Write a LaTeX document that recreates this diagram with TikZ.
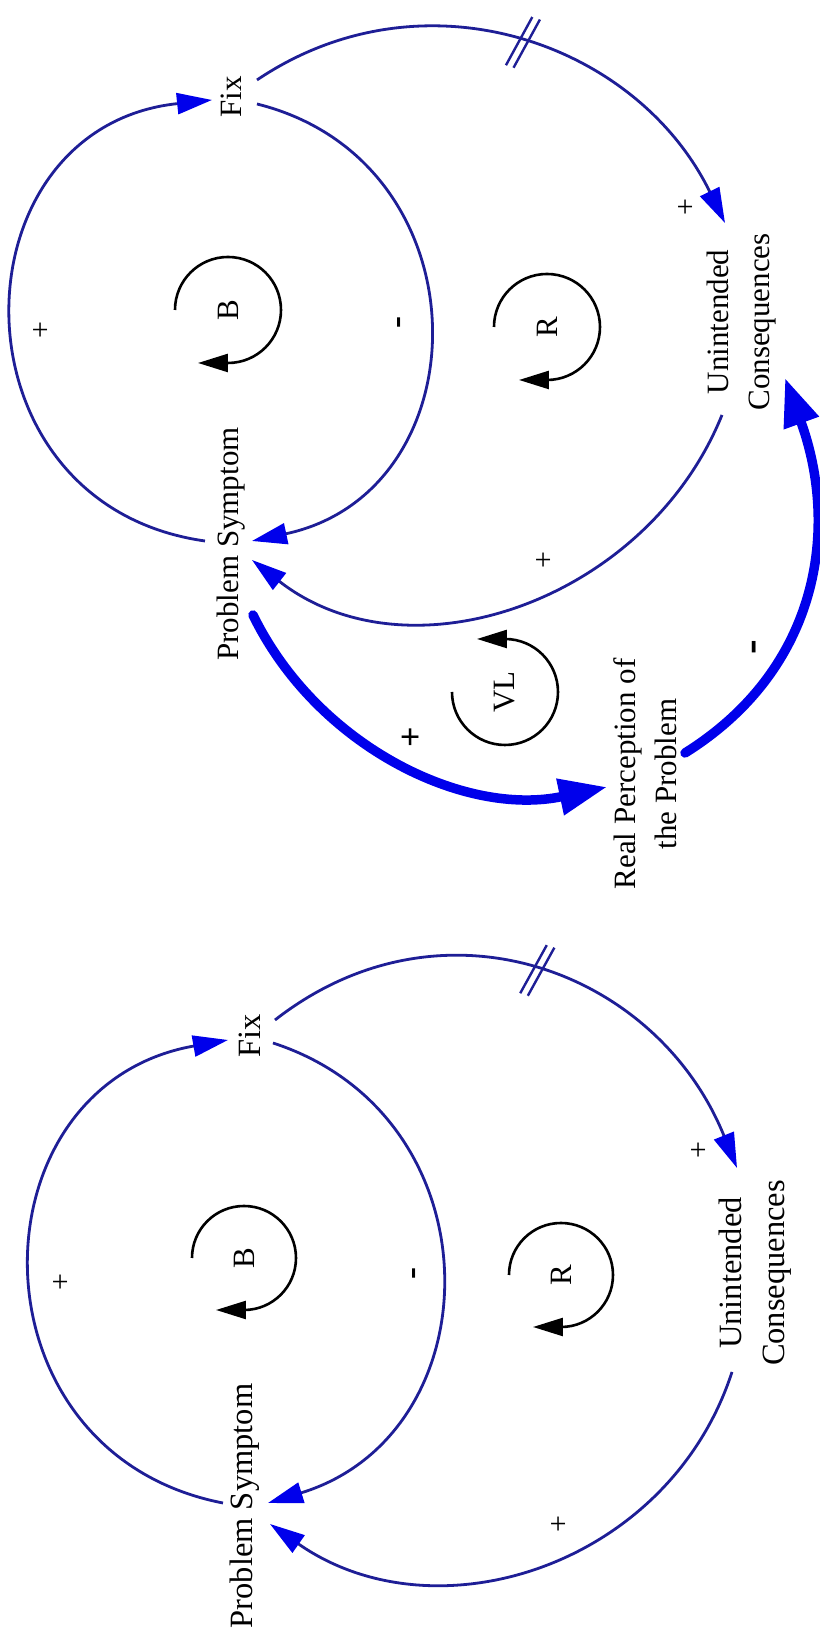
\documentclass[tikz,border=0pt]{standalone}
\usepackage{fontspec}
\setmainfont{Liberation Serif}
\usetikzlibrary{arrows.meta,calc,decorations.markings}
\definecolor{linknavy}{RGB}{30,30,150}
\definecolor{headblue}{RGB}{0,0,235}
\tikzset{
  vname/.style={align=center, inner sep=0pt, font=\fontsize{31}{41}\selectfont},
  sign/.style={inner sep=0pt, font=\fontsize{30}{34}\selectfont},
  msign/.style={inner sep=0pt, font=\fontsize{36}{40}\selectfont\bfseries},
  bsign/.style={inner sep=0pt, font=\fontsize{36}{40}\selectfont\bfseries},
  looplbl/.style={inner sep=0pt, font=\fontsize{31}{36}\selectfont},
  link/.style={linknavy, line width=2.8pt,
               -{Triangle[length=35pt, width=21pt, color=headblue]}},
  thicklink/.style={headblue, line width=9.5pt, line cap=round,
                    -{Triangle[length=48pt, width=35pt]}},
  loopsym/.style={line width=2.6pt, -{Triangle[length=30pt, width=18pt]}},
  delay/.style={postaction={decorate, decoration={markings,
      mark=at position #1 with {
        \draw[linknavy, line width=2.4pt, -] (-9,-27) -- (1,27);
        \draw[linknavy, line width=2.4pt, -] (-1,-27) -- (9,27);}}}}
}
\begin{document}
\begin{tikzpicture}[x=1pt, y=1pt, rotate=90, transform shape]
  \useasboundingbox (0,0) rectangle (1637,819);
  \fill[white] (0,0) rectangle (1637,819);
  % with the perception loop
  \node[vname] (PS) at (1093,588) {Problem Symptom};
  \node[vname] (Fix) at (1540,588) {Fix};
  \node[vname] (UC) at (1315,77) {Unintended\\Consequences};
  \node[vname] (RPP) at (863,174) {Real Perception of\\the Problem};
  \node[looplbl] (B) at (1327,591) {B};
  \node[looplbl] (R) at (1310,272) {R};
  \node[looplbl] (VL) at (945,314) {VL};
  \draw[link] ($(PS)+(3,26)$) to[out=82, in=96, looseness=1.52] ($(Fix)+(-3,19)$);
  \draw[link] ($(Fix)+(-7,-26)$) to[out=-104, in=-78, looseness=1.39] ($(PS)+(3,-21)$);
  \draw[link, delay=0.5] ($(Fix)+(17,-26)$) to[out=-56, in=26, looseness=1.05] ($(UC)+(99,17)$);
  \draw[link] ($(UC)+(-93,20)$) to[out=158, in=-128, looseness=1.04] ($(PS)+(-16,-21)$);
  \draw[thicklink] ($(PS)+(-71,-22)$) to[out=-154, in=102, looseness=0.95] ($(RPP)+(-13,38)$);
  \draw[thicklink] ($(RPP)+(21,-40)$) to[out=-58, in=200, looseness=1.05] ($(UC)+(-56,-43)$);
  \draw[loopsym] ($(B)+(0,53)$) arc[start angle=90, end angle=-180, radius=53] -- ++(0,30);
  \draw[loopsym] ($(R)+(0,53)$) arc[start angle=90, end angle=-180, radius=53] -- ++(0,28);
  \draw[loopsym] ($(VL)+(0,53)$) arc[start angle=90, end angle=360, radius=53] -- ++(0,28);
  \node[sign] (s1) at (1307,777) {+};
  \node[msign] (s2) at (1314,416) {-};
  \node[sign] (s3) at (1430,132) {+};
  \node[sign] (s4) at (1077,274) {+};
  \node[bsign] (s5) at (900,407) {+};
  \node[bsign, font=\fontsize{44}{48}\selectfont\bfseries] (s6) at (990,61) {-};
  % basic fixes that fail
  \begin{scope}[vname/.append style={font=\fontsize{32.5}{43}\selectfont}]
  \node[vname] (PSb) at (131,574) {Problem Symptom};
  \node[vname] (Fixb) at (601,569) {Fix};
  \node[vname] (UCb) at (364,64) {Unintended\\Consequences};
  \node[looplbl] (Bb) at (379,575) {B};
  \node[looplbl] (Rb) at (362,258) {R};
  \draw[link] ($(PSb)+(3,22)$) to[out=79, in=100, looseness=1.45] ($(Fixb)+(-4,22)$);
  \draw[link] ($(Fixb)+(-7,-23)$) to[out=-108, in=-73, looseness=1.32] ($(PSb)+(3,-23)$);
  \draw[link, delay=0.49] ($(Fixb)+(16,-25)$) to[out=-52, in=22, looseness=1.12] ($(UCb)+(105,18)$);
  \draw[link] ($(UCb)+(-99,23)$) to[out=162, in=-125, looseness=1.07] ($(PSb)+(-18,-25)$);
  \draw[loopsym] ($(Bb)+(0,52)$) arc[start angle=90, end angle=-180, radius=52] -- ++(0,28);
  \draw[loopsym] ($(Rb)+(0,52)$) arc[start angle=90, end angle=-180, radius=52] -- ++(0,28);
  \node[sign] (s7) at (355,757) {+};
  \node[msign] (s8) at (363,401) {-};
  \node[sign] (s9) at (487,119) {+};
  \node[sign] (s10) at (113,259) {+};
  \end{scope}
\end{tikzpicture}
\end{document}
